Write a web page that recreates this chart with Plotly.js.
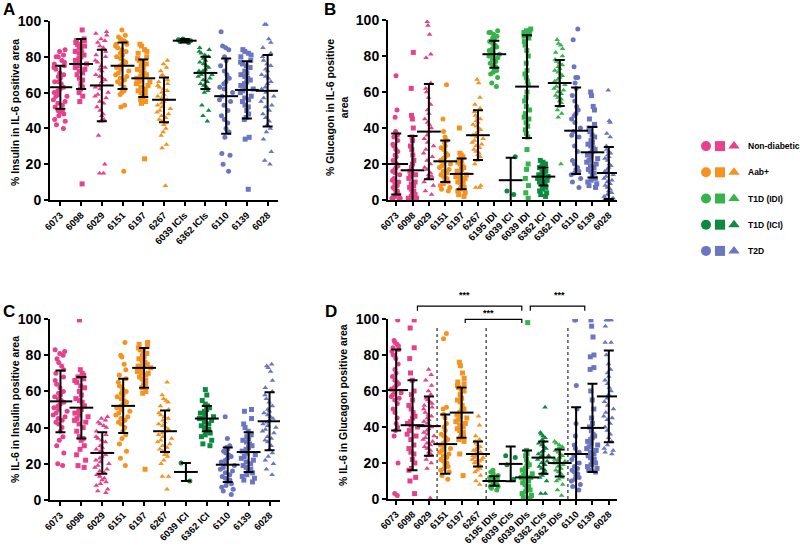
<!DOCTYPE html>
<html>
<head>
<meta charset="utf-8">
<script src="https://cdn.plot.ly/plotly-3.0.1.min.js"></script>
<style>
  html, body { margin:0; padding:0; background:#fff; }
  #chart { width:800px; height:547px; }
</style>
</head>
<body>
<div id="chart"></div>
<script>
// ---- Data ----
const catsA = ['6073','6098','6029','6151','6197','6267','6039 ICIs','6362 ICIs','6110','6139','6028'];
const meanA = [63, 76, 64, 75, 68, 56, 89, 71, 58, 61.5, 61];
const sdA   = [12, 14, 20, 13, 10.5, 12.5, 1, 9, 21, 16, 20];
const ptsA = [
  [84,83,81,80,80,78,77,76,75,74,73,71,70,69,68,66,66,65,63,62,61,60,59,58,58,56,55,54,53,52,50,50,49,48,47,45,44,42,40],
  [95,90,89,89,88,87,86,86,85,84,83,82,82,81,80,79,78,77,76,75,74,73,72,71,70,68,67,65,63,62,60,58,55,9],
  [94,93,92,90,89,88,86,85,83,81,80,78,77,75,74,73,72,70,69,68,67,66,64,63,62,60,59,58,57,55,54,52,50,48,47,45,44,36,20,15,15],
  [95,92,91,90,89,88,87,87,86,85,84,83,82,81,80,79,78,77,76,75,74,73,72,71,70,69,68,67,66,65,63,62,61,60,59,53,52,16],
  [87,86,84,83,82,80,79,78,77,76,75,74,73,72,71,70,70,69,68,67,66,66,65,64,63,62,61,60,60,59,58,57,56,55,54,23],
  [78,76,74,72,70,68,67,66,65,64,63,62,61,60,59,58,57,56,56,55,54,53,52,51,50,49,48,47,46,45,44,43,42,40,38,36,31,29,8],
  [90,89.5,89,88.5,88],
  [85,84,83,82,81,80,79,78,77,76,75,74,73,72,72,71,70,70,69,68,67,66,65,64,63,62,61,60,53,50,47,44],
  [94,86,85,84,80,78,75,72,70,68,66,65,63,62,60,58,56,55,53,50,47,45,43,40,38,35,26,25,20,16],
  [84,83,82,81,80,78,77,76,75,74,72,71,70,69,68,67,66,65,64,63,62,61,60,58,57,56,55,53,52,50,48,46,45,35,34,6],
  [98,98,90,88,85,82,80,78,76,75,73,72,70,69,68,66,65,63,62,60,58,57,55,53,52,50,48,46,44,42,40,38,34,27,22,20]
];

const catsB = ['6073','6098','6029','6151','6197','6267','6195 IDI','6039 ICI','6039 IDI','6362 ICI','6362 IDI','6110','6139','6028'];
const meanB = [20, 16.5, 38, 21.5, 14.5, 36, 81, 11, 63, 13, 65, 38.5, 26.5, 15];
const sdB   = [17, 19, 26.5, 11.5, 8.5, 13.8, 7.5, 12.5, 28.5, 5, 12.8, 24, 14, 14.5];
const ptsB = [
  [69,50,46,38,37,36,35,33,31,30,28,27,25,24,22,21,20,19,18,17,16,15,14,12,11,10,9,8,7,6,5,4,3,2,1,1,0.5,0.5],
  [82,62,47,45,40,35,33,30,28,25,22,20,18,16,15,14,13,12,10,9,8,7,6,5,4,3,2,1,1,0.5,0.5],
  [99,97,92,81,79,65,62,60,57,53,50,48,45,43,42,40,38,36,34,32,30,28,26,24,22,20,18,17,15,14,13,12,10,8,5,3],
  [64,45,38,35,33,32,30,29,28,26,25,24,23,22,21,20,19,18,17,16,15,14,13,12,11,10,9,8,7,6,5],
  [40,26,25,24,23,22,21,20,19,18,17,16,16,15,14,14,13,12,12,11,10,10,9,8,7,6,5,4,3,2],
  [67,65,57,53,51,49,47,46,45,44,43,42,41,40,39,38,37,36,35,34,33,32,31,30,29,28,27,26,25,24,22,20,8,7,7],
  [94,93,93,92,91,90,89,88,87,86,85,85,84,83,82,81,80,80,79,78,77,76,75,74,73,72,71,70,68,65,63],
  [24,5,3],
  [95,94,94,93,93,92,92,91,90,88,86,83,80,76,72,70,68,66,64,60,57,55,52,50,48,46,45,43,41,39,37,35,28,20,17,12,8,4,1],
  [22,21,20,19,18,18,17,16,16,15,14,14,13,13,12,12,11,11,10,10,9,9,8,7,6,5,4,3,2],
  [89,87,86,84,82,80,78,77,76,75,74,73,72,71,70,69,68,67,66,65,64,63,62,61,60,59,58,57,56,55,54,52,50,48,46,20],
  [95,89,74,68,68,65,62,58,55,52,50,48,47,45,43,40,38,36,35,30,27,22,20,18,17,16,15,14,12,10,7],
  [60,58,52,50,45,42,40,38,36,35,33,32,31,30,29,28,27,26,25,24,23,22,21,20,19,18,17,16,15,14,12,11,10,9,8,7],
  [61,44,43,37,35,30,28,27,26,25,24,23,22,20,19,18,17,16,15,14,13,12,11,10,9,8,7,6,5,4,3,2,1,0.5,0.5]
];

const catsC = ['6073','6098','6029','6151','6197','6267','6039 ICI','6362 ICI','6110','6139','6028'];
const meanC = [54.5, 51, 26, 52, 73, 38, 15.5, 45, 19.5, 26.5, 43.5];
const sdC   = [17, 17, 11.5, 15, 11, 11.5, 5, 7, 9.5, 11, 16];
const ptsC = [
  [83,82,81,80,78,76,74,72,70,68,66,64,62,60,59,58,57,56,55,54,53,52,51,50,49,48,47,46,45,44,43,42,40,38,35,33,30,26,20,19],
  [99.5,72,70,69,68,67,66,65,63,62,60,58,56,55,54,52,50,49,48,47,46,45,44,43,42,40,38,35,34,33,30,28,25,22,19,18],
  [46,45,44,43,42,41,40,38,36,35,34,33,32,30,29,28,27,26,25,24,23,22,21,20,19,18,17,16,15,14,13,12,11,10,9,8,6,5,4],
  [87,80,79,75,72,69,67,65,63,61,60,59,58,57,56,55,54,53,52,51,50,49,48,47,46,45,44,43,42,40,38,36,34,31,27,23,19],
  [87,86,85,84,83,82,81,80,79,78,77,76,75,75,74,74,73,73,72,71,70,70,69,68,67,66,65,64,63,62,60,59,17],
  [65,58,56,55,54,52,50,48,47,46,45,44,43,42,41,40,39,38,37,36,35,34,33,32,31,30,29,28,27,26,25,24,22,20,13,13,6],
  [20.5,10.5],
  [61,58,55,53,52,51,50,49,48,47,46,45,45,44,43,42,41,40,39,38,37,36,35,33,31,30],
  [46,34,30,29,28,27,26,25,24,23,22,21,20,19,18,17,16,15,14,13,12,11,10,9,8,7,6,5,3],
  [50,49,45,42,40,38,36,35,34,33,32,31,30,29,28,27,26,25,24,23,22,21,20,19,18,17,16,15,14,13,12,11,10],
  [75,74,73,71,66,62,60,58,56,54,52,50,49,48,47,46,45,44,43,42,41,40,39,38,37,35,34,33,32,30,28,26,24,22,20,17,14]
];

const catsD = ['6073','6098','6029','6151','6197','6267','6195 IDIs','6039 ICIs','6039 IDIs','6362 ICIs','6362 IDIs','6110','6139','6028'];
const meanD = [60.5, 41, 40.5, 30.5, 48, 25, 10, 19.5, 12, 23, 20, 25, 39.5, 57];
const sdD   = [22.5, 25, 16.5, 16.5, 14, 7, 2.7, 9.7, 15, 9, 7.5, 26, 24.5, 25.5];
const ptsD = [
  [99.5,88,87,86,85,84,83,82,80,78,75,72,70,68,66,65,64,63,62,61,60,59,58,57,56,55,53,50,48,45,42,40,38,35,20,3,2],
  [99.5,95,84,78,70,66,60,58,55,52,50,48,46,45,43,42,41,40,38,36,35,33,30,28,26,25,22,20,17,16,12,10,3],
  [72,69,66,63,60,58,56,55,54,53,52,51,50,48,47,46,45,44,43,42,41,40,39,38,37,36,35,34,33,32,31,30,29,28,27,26,25,24,22,20,17,0.5],
  [92,89,51,50,47,45,42,40,38,36,35,34,33,32,31,30,29,28,27,26,25,24,23,22,21,20,19,18,17,16,15,13,11],
  [76,74,70,67,65,64,63,62,61,60,58,56,55,54,52,50,49,48,47,46,45,44,43,42,41,40,39,38,37,36,35,34,33,32,25,13],
  [46,41,35,33,32,31,30,29,28,28,27,27,26,26,25,25,24,24,23,23,22,22,21,21,20,20,19,18,17,16,15,13,10,8],
  [16,15,14,13,12,12,11,11,10,10,10,9,9,8,8,7,7,6,5],
  [24,23,19,11],
  [98,27,25,24,22,20,19,18,17,16,15,14,13,12,12,11,10,9,8,7,6,5,4,3,2,1,0.5],
  [51,37,36,35,34,33,32,31,30,29,28,27,26,25,24,24,23,22,21,20,19,18,17,16,15,14,13,12,10,3,3],
  [32,31,30,29,28,28,27,26,25,24,23,22,22,21,21,20,20,19,18,17,16,15,14,13,12,11,10,8,5,2],
  [99.5,99.5,63,50,42,35,30,28,26,24,22,20,18,17,16,15,14,13,12,11,10,8,7,5],
  [99.5,96,90,80,79,73,72,60,55,50,45,42,40,38,36,35,34,33,32,31,30,29,28,27,26,25,24,23,22,21,20,19,18,17,16,15],
  [99.5,99.5,99.5,99.5,96,87,87,80,75,72,70,68,66,64,62,60,58,56,54,52,50,48,46,45,44,42,40,38,36,34,32,30,28,27,26,25]
];

const legendNames = ['Non-diabetic','Aab+','T1D (IDI)','T1D (ICI)','T2D'];

// ---- Styling ----
const FONT = 'Liberation Sans, Arial, sans-serif';
const COL = { ND:'#e9408c', AAB:'#f6921e', IDI:'#34b44a', ICI:'#0c8b40', T2D:'#6a76c2' };
const C='circle', S='square', T='triangle-up';

const grpA = ['ND','ND','ND','AAB','AAB','AAB','ICI','ICI','T2D','T2D','T2D'];
const symA = [C,S,T,C,S,T,C,T,C,S,T];
const grpB = ['ND','ND','ND','AAB','AAB','AAB','IDI','ICI','IDI','ICI','IDI','T2D','T2D','T2D'];
const symB = [C,S,T,C,S,T,C,C,S,S,T,C,S,T];
const grpC = ['ND','ND','ND','AAB','AAB','AAB','ICI','ICI','T2D','T2D','T2D'];
const symC = [C,S,T,C,S,T,C,S,C,S,T];
const grpD = ['ND','ND','ND','AAB','AAB','AAB','IDI','ICI','IDI','ICI','IDI','T2D','T2D','T2D'];
const symD = [C,S,T,C,S,T,C,C,S,T,T,C,S,T];

function panelTraces(cats, pts, mean, sd, grp, sym, ax){
  const xa = 'x'+ax, ya = 'y'+ax;
  const tr = cats.map((c,i)=>({
    type:'box', x: pts[i].map(()=>c), y: pts[i],
    xaxis: xa, yaxis: ya,
    boxpoints:'all', jitter:0.9, pointpos:0, width:0.8,
    fillcolor:'rgba(0,0,0,0)', line:{ width:0, color:'rgba(0,0,0,0)' },
    whiskerwidth:0,
    marker:{ color: COL[grp[i]], symbol: sym[i], size:5 },
    hoverinfo:'y', showlegend:false
  }));
  // mean line + SD bars
  tr.push({
    type:'scatter', mode:'markers', x: cats, y: mean, xaxis: xa, yaxis: ya,
    marker:{ symbol:'line-ew', size:17, color:'#000', line:{ width:2, color:'#000' } },
    error_y:{ type:'data', array: sd, visible:true, color:'#000', thickness:2, width:5 },
    hoverinfo:'skip', showlegend:false
  });
  return tr;
}

const traces = [
  ...panelTraces(catsA, ptsA, meanA, sdA, grpA, symA, ''),
  ...panelTraces(catsB, ptsB, meanB, sdB, grpB, symB, '2'),
  ...panelTraces(catsC, ptsC, meanC, sdC, grpC, symC, '3'),
  ...panelTraces(catsD, ptsD, meanD, sdD, grpD, symD, '4')
];

// legend rows (symbols drawn on their own hidden axes)
const legGroups = ['ND','AAB','IDI','ICI','T2D'];
legGroups.forEach((g,r)=>{
  traces.push({
    type:'scatter', mode:'markers', x:[0,1,2], y:[r,r,r], xaxis:'x5', yaxis:'y5',
    marker:{ symbol:[C,S,T], size:10, color: COL[g] },
    hoverinfo:'skip', showlegend:false, cliponaxis:false
  });
});

function xAx(dom, cats){
  return {
    domain: dom, type:'category', categoryorder:'array', categoryarray: cats,
    range:[-0.5, cats.length-0.5], showline:true, linewidth:2, linecolor:'#000',
    ticks:'outside', ticklen:4, tickwidth:2, tickcolor:'#000', tickangle:-45,
    tickfont:{ family:FONT, size:9.5, color:'#000', weight:'bold' },
    showgrid:false, zeroline:false, fixedrange:true, automargin:false
  };
}
function yAx(dom, anchor){
  return {
    domain: dom, anchor: anchor, range:[0,100], dtick:20, showline:true, linewidth:2, linecolor:'#000',
    ticks:'outside', ticklen:4, tickwidth:2, tickcolor:'#000',
    tickfont:{ family:FONT, size:14, color:'#000', weight:'bold' },
    showgrid:false, zeroline:false, fixedrange:true, automargin:false
  };
}

const W = 800, H = 547;
const px = v => v/W, py = v => 1 - v/H;

const layout = {
  width: W, height: H,
  margin:{ l:0, r:0, t:0, b:0 },
  paper_bgcolor:'#fff', plot_bgcolor:'#fff',
  showlegend:false, boxmode:'overlay',
  font:{ family:FONT, color:'#000' },
  xaxis:  { ...xAx([px(50),  px(278)], catsA), anchor:'y' },
  yaxis:  yAx([py(200), py(21)], 'x'),
  xaxis2: { ...xAx([px(388), px(617)], catsB), anchor:'y2' },
  yaxis2: yAx([py(200), py(20)], 'x2'),
  xaxis3: { ...xAx([px(50),  px(280)], catsC), anchor:'y3' },
  yaxis3: yAx([py(500), py(319)], 'x3'),
  xaxis4: { ...xAx([px(388), px(617)], catsD), anchor:'y4' },
  yaxis4: yAx([py(499), py(319)], 'x4'),
  xaxis5: { domain:[px(699), px(741)], range:[-0.5,2.5], visible:false, anchor:'y5', fixedrange:true },
  yaxis5: { domain:[py(264), py(133)], range:[4.5,-0.5], visible:false, anchor:'x5', fixedrange:true },
  shapes: [],
  annotations: []
};

// panel letters
[['A',1,9],['B',322,10],['C',1,312],['D',323,312]].forEach(([t,x,y])=>{
  layout.annotations.push({ text:t, xref:'paper', yref:'paper', x:px(x), y:py(y),
    xanchor:'left', yanchor:'middle', showarrow:false,
    font:{ family:FONT, size:17, color:'#000', weight:'bold' } });
});

// y-axis titles
[['% Insulin in IL-6 positive area',15,113],
 ['% Glucagon in IL-6 positive<br>area',337,108],
 ['% IL-6 in Insulin positive area',15,410],
 ['% IL-6 in Glucagon positive area',343,405]].forEach(([t,x,y])=>{
  layout.annotations.push({ text:t, xref:'paper', yref:'paper', x:px(x), y:py(y),
    xanchor:'center', yanchor:'middle', textangle:-90, showarrow:false,
    font:{ family:FONT, size:10.5, color:'#000', weight:'bold' } });
});

// legend labels
legendNames.forEach((n,r)=>{
  layout.annotations.push({ text:n, xref:'paper', yref:'y5', x:px(746), y:r,
    xanchor:'left', yanchor:'middle', showarrow:false,
    font:{ family:FONT, size:8.5, color:'#000', weight:'bold' } });
});

// panel D: dashed separators
[2.5, 5.5, 10.5].forEach(x=>{
  layout.shapes.push({ type:'line', xref:'x4', yref:'y4', x0:x, x1:x, y0:0, y1:96,
    line:{ color:'#000', width:1, dash:'dot' } });
});

// panel D: significance brackets
const brackets = [
  { x0:1.3, x1:7.68, y:1.072, tick:1.046, sx:4.16, sy:1.133 },
  { x0:4.22, x1:7.68, y:0.998, tick:0.978, sx:5.63, sy:1.035 },
  { x0:8.2, x1:11.53, y:1.072, tick:1.046, sx:9.96, sy:1.133 }
];
brackets.forEach(b=>{
  layout.shapes.push({ type:'path', xref:'x4', yref:'y4 domain',
    path:`M ${b.x0},${b.tick} L ${b.x0},${b.y} L ${b.x1},${b.y} L ${b.x1},${b.tick}`,
    line:{ color:'#000', width:1.2 } });
  layout.annotations.push({ text:'***', xref:'x4', yref:'y4 domain', x:b.sx, y:b.sy,
    xanchor:'center', yanchor:'middle', showarrow:false,
    font:{ family:FONT, size:9, color:'#000', weight:'bold' } });
});

Plotly.newPlot('chart', traces, layout, { staticPlot:true, displayModeBar:false });
</script>
</body>
</html>
